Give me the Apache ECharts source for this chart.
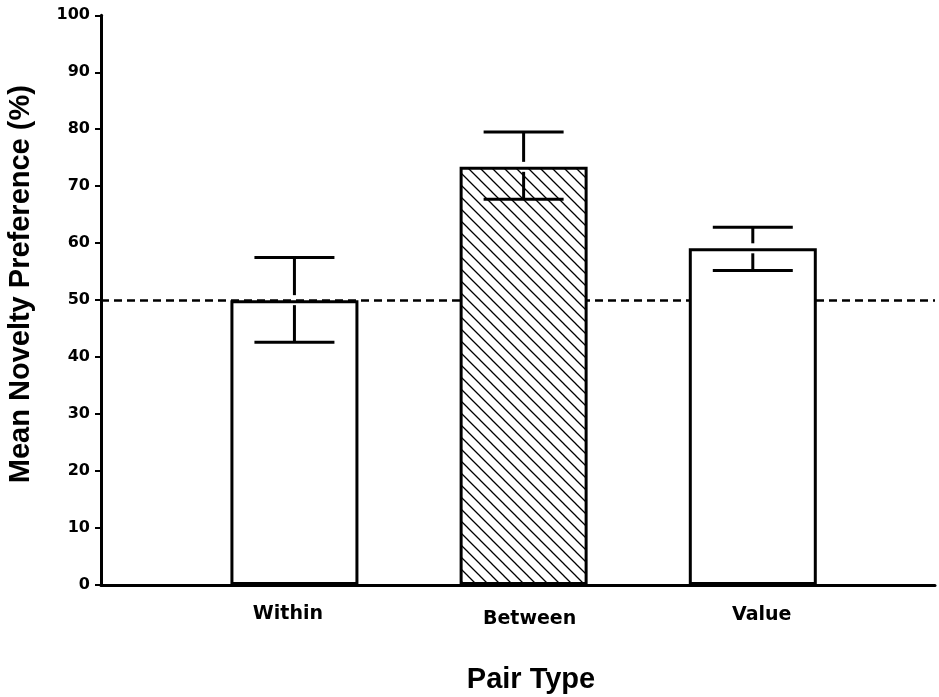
<!DOCTYPE html>
<html>
<head>
<meta charset="utf-8">
<title>Mean Novelty Preference</title>
<script src="https://cdn.jsdelivr.net/npm/echarts@6/dist/echarts.min.js"></script>
<style>
  html, body { margin: 0; padding: 0; background: #fff; }
  #chart { width: 939px; height: 697px; }
</style>
</head>
<body>
<div id="chart"></div>
<script>
// data
var categories = ['Within', 'Between', 'Value'];
var positions = [1, 2, 3];
var means = [50, 73.4, 59.1];
var upper = [57.5, 79.5, 62.8];
var lower = [42.6, 67.7, 55.2];
var hatched = [false, true, false];
var chanceLevel = 50;

// the original labels sit a little off-centre
var labelPad = {
  Within: [2, 13, 0, 0],
  Between: [7, 0, 0, 12],
  Value: [3, 0, 0, 18]
};

// diagonal hatch tile for the "Between" bar
function makeHatch() {
  var s = 12;
  var c = document.createElement('canvas');
  c.width = s; c.height = s;
  var ctx = c.getContext('2d');
  ctx.fillStyle = '#fff';
  ctx.fillRect(0, 0, s, s);
  ctx.strokeStyle = '#000';
  ctx.lineWidth = 1.3;
  ctx.beginPath();
  ctx.moveTo(-1, -1); ctx.lineTo(s + 1, s + 1);
  ctx.moveTo(-1, s - 1); ctx.lineTo(1, s + 1);
  ctx.moveTo(s - 1, -1); ctx.lineTo(s + 1, 1);
  ctx.stroke();
  return c;
}
var hatch = makeHatch();

var barData = means.map(function (m, i) {
  return {
    value: [positions[i], m],
    itemStyle: { color: hatched[i] ? { image: hatch, repeat: 'repeat' } : '#fff' }
  };
});
var errData = means.map(function (m, i) {
  return [positions[i], m, lower[i], upper[i]];
});

var labelFont = { fontFamily: 'DejaVu Sans', fontWeight: 'bold', fontSize: 19, color: '#000' };
var rich = {};
categories.forEach(function (c) {
  rich[c] = Object.assign({ padding: labelPad[c] }, labelFont);
});

var chart = echarts.init(document.getElementById('chart'));
var option = {
  animation: false,
  backgroundColor: '#fff',
  grid: { left: 101, right: 4, top: 15.3, bottom: 112, outerBoundsMode: 'none' },
  xAxis: {
    type: 'value',
    min: 0.156,
    max: 3.795,
    name: 'Pair Type',
    nameLocation: 'middle',
    nameGap: 80,
    nameTextStyle: {
      fontFamily: 'Liberation Sans', fontWeight: 'bold', fontSize: 29, color: '#000',
      padding: [0, 0, 0, 26]
    },
    axisLine: { show: true, onZero: false, lineStyle: { color: '#000', width: 3 } },
    axisTick: { show: false },
    splitLine: { show: false },
    axisLabel: {
      customValues: positions,
      formatter: function (v) {
        var name = categories[Math.round(v) - 1];
        return '{' + name + '|' + name + '}';
      },
      rich: rich,
      margin: 18
    }
  },
  yAxis: {
    type: 'value',
    min: 0,
    max: 100,
    interval: 10,
    name: 'Mean Novelty Preference (%)',
    nameLocation: 'middle',
    nameGap: 66,
    nameTextStyle: {
      fontFamily: 'Liberation Sans', fontWeight: 'bold', fontSize: 29, color: '#000',
      padding: [0, 0, 0, 32]
    },
    axisLine: { show: true, lineStyle: { color: '#000', width: 3 } },
    axisTick: { show: true, length: 6, lineStyle: { color: '#000', width: 2 } },
    splitLine: { show: false },
    axisLabel: {
      fontFamily: 'DejaVu Sans', fontWeight: 'bold', fontSize: 16, color: '#000',
      margin: 11
    }
  },
  series: [
    {
      // dashed chance line, kept on the bottom layer so the bars cover it
      type: 'line',
      data: [],
      zlevel: 0,
      silent: true,
      markLine: {
        silent: true,
        symbol: 'none',
        label: { show: false },
        lineStyle: { color: '#000', width: 2.5, type: [8, 5] },
        data: [{ yAxis: chanceLevel }]
      }
    },
    {
      type: 'bar',
      data: barData,
      barWidth: 128,
      zlevel: 1,
      z: 2,
      itemStyle: { borderColor: '#000', borderWidth: 3 }
    },
    {
      type: 'custom',
      zlevel: 1,
      z: 3,
      data: errData,
      renderItem: function (params, api) {
        var x = api.value(0);
        var pM = api.coord([x, api.value(1)]);
        var pLo = api.coord([x, api.value(2)]);
        var pHi = api.coord([x, api.value(3)]);
        var half = 40, gap = 5;
        var st = { stroke: '#000', lineWidth: 3, fill: null };
        return {
          type: 'group',
          children: [
            { type: 'line', shape: { x1: pHi[0] - half, y1: pHi[1], x2: pHi[0] + half, y2: pHi[1] }, style: st },
            { type: 'line', shape: { x1: pHi[0], y1: pHi[1], x2: pHi[0], y2: pM[1] - gap }, style: st },
            { type: 'line', shape: { x1: pLo[0], y1: pM[1] + gap, x2: pLo[0], y2: pLo[1] }, style: st },
            { type: 'line', shape: { x1: pLo[0] - half, y1: pLo[1], x2: pLo[0] + half, y2: pLo[1] }, style: st }
          ]
        };
      }
    }
  ]
};
chart.setOption(option);
</script>
</body>
</html>
